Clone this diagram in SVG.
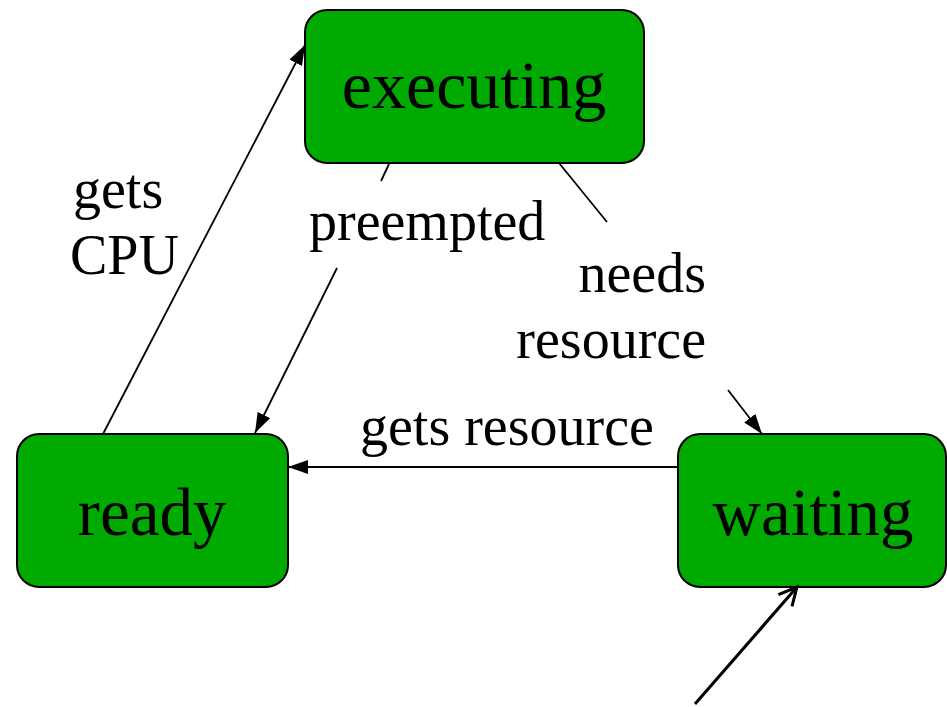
<svg xmlns="http://www.w3.org/2000/svg" width="947" height="707" viewBox="0 0 947 707">
<defs>
<marker id="ah" markerWidth="20" markerHeight="14" refX="20" refY="7" orient="auto" markerUnits="userSpaceOnUse">
<path d="M0,0 L20,7 L0,14 Z" fill="#000"/>
</marker>
<marker id="oh" markerWidth="24" markerHeight="24" refX="20" refY="12" orient="auto" markerUnits="userSpaceOnUse">
<path d="M2,3 L20,12 L2,21" fill="none" stroke="#000" stroke-width="3"/>
</marker>
<style>
.node rect{fill:#00AA00;stroke:#000;stroke-width:2}
.node text{font-family:"Liberation Serif",serif;font-size:67px;text-anchor:middle;fill:#000}
.lbl{font-family:"Liberation Serif",serif;font-size:56px;fill:#000}
.c{stroke:#000;stroke-width:1.8;fill:none}
</style>
</defs>
<g id="executing" class="node">
<rect x="305" y="10" width="339" height="153" rx="22"/>
<text x="474" y="108" style="font-size:68px">executing</text>
</g>
<g id="ready" class="node">
<rect x="17" y="434" width="271" height="153" rx="22"/>
<text x="152" y="535">ready</text>
</g>
<g id="waiting" class="node">
<rect x="678" y="434" width="268" height="153" rx="22"/>
<text x="813" y="535">waiting</text>
</g>
<g id="connectors">
<path class="c" d="M103,434 L305,45" marker-end="url(#ah)"/>
<path class="c" d="M389,164 L381,181"/>
<path class="c" d="M337,268 L255,433" marker-end="url(#ah)"/>
<path class="c" d="M559,163 L607,222"/>
<path class="c" d="M728,390 L762,434" marker-end="url(#ah)"/>
<path class="c" d="M678,467 L288,467" marker-end="url(#ah)"/>
<path d="M695,704 L797,587" stroke="#000" stroke-width="3" fill="none" marker-end="url(#oh)"/>
</g>
<g id="labels">
<text class="lbl" x="73" y="208">gets</text>
<text class="lbl" x="70" y="274">CPU</text>
<text class="lbl" x="309" y="240">preempted</text>
<text class="lbl" x="706" y="292" text-anchor="end">needs</text>
<text class="lbl" x="706" y="358" text-anchor="end">resource</text>
<text class="lbl" x="360" y="445">gets resource</text>
</g>
</svg>
